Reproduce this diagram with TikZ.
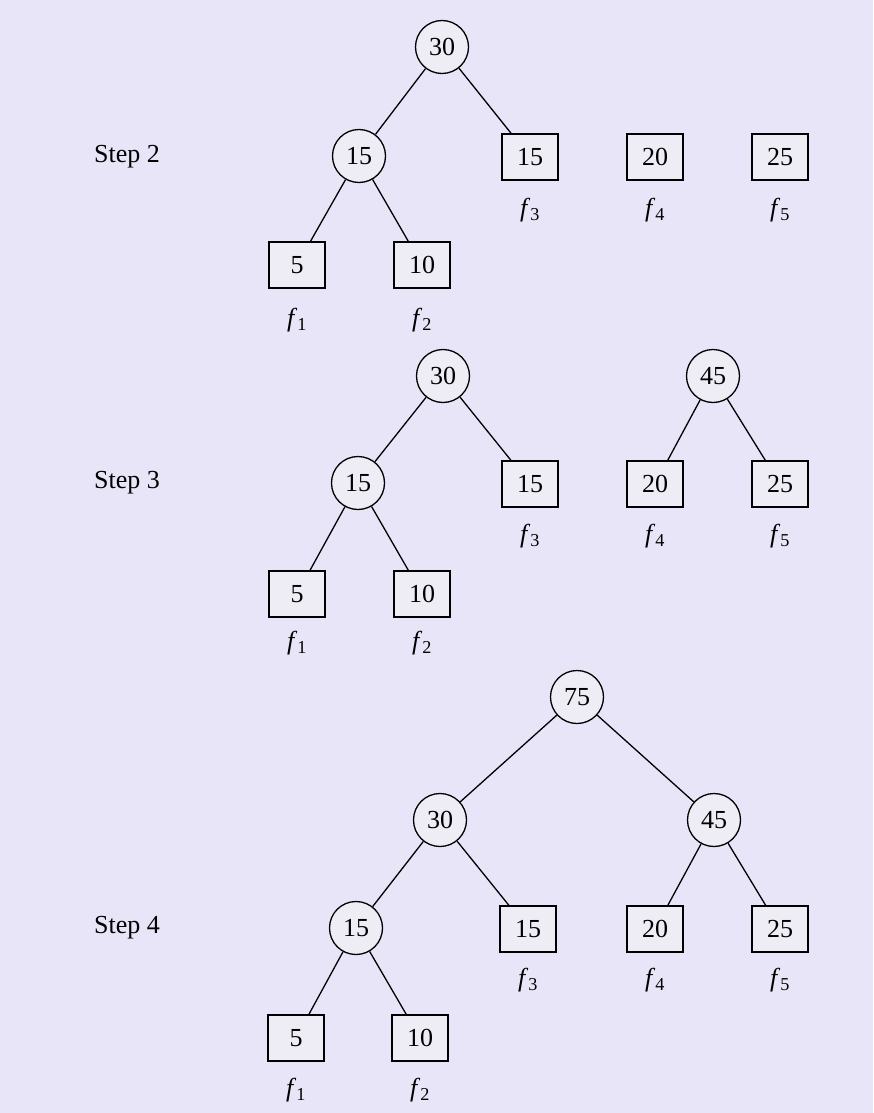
\documentclass[tikz,border=0pt]{standalone}
\usepackage{fontspec}
\setmainfont{Liberation Serif}
\usepackage{tikz}
\usepackage{xcolor}

\definecolor{paper}{RGB}{233,229,248}
\definecolor{cellfill}{RGB}{238,236,245}

\begin{document}
\begin{tikzpicture}[
            x = 1pt, y = -1pt, % pixel units, y downwards
            font = \fontsize{26}{30}\selectfont,
            line width = 1.3pt, % line style
            sum/.style = {shape=circle, draw=black, fill=cellfill, minimum size=53pt, inner sep=0pt},
            leaf/.style = {shape=rectangle, draw=black, fill=cellfill, minimum width=56pt, minimum height=46pt, inner sep=0pt},
            flab/.style = {inner sep=0pt}
        ]

\fill[paper] (0,0) rectangle (873,1113);
\useasboundingbox (0,0) rectangle (873,1113);

% Step 2
\node (stepA) at (127,157) {Step 2};
\node[sum] (A30) at (442,47) {30};
\node[sum] (A15) at (359,156) {15};
\node[leaf] (A15f) at (530,157) {15};
\node[leaf] (A20) at (655,157) {20};
\node[leaf] (A25) at (780,157) {25};
\node[leaf] (A5) at (297,265) {5};
\node[leaf] (A10) at (422,265) {10};
\node[flab] (Af1) at (297,320) {\textit{f}\textsubscript{1}};
\node[flab] (Af2) at (422,320) {\textit{f}\textsubscript{2}};
\node[flab] (Af3) at (530,210) {\textit{f}\textsubscript{3}};
\node[flab] (Af4) at (655,210) {\textit{f}\textsubscript{4}};
\node[flab] (Af5) at (780,210) {\textit{f}\textsubscript{5}};

\path (A30) edge (A15);
\path (A30) edge (A15f);
\path (A15) edge (A5);
\path (A15) edge (A10);

% Step 3
\node (stepB) at (127,483) {Step 3};
\node[sum] (B30) at (443,376) {30};
\node[sum] (B15) at (358,483) {15};
\node[leaf] (B15f) at (530,484) {15};
\node[sum] (B45) at (713,376) {45};
\node[leaf] (B20) at (655,484) {20};
\node[leaf] (B25) at (780,484) {25};
\node[leaf] (B5) at (297,594) {5};
\node[leaf] (B10) at (422,594) {10};
\node[flab] (Bf1) at (297,643) {\textit{f}\textsubscript{1}};
\node[flab] (Bf2) at (422,643) {\textit{f}\textsubscript{2}};
\node[flab] (Bf3) at (530,536) {\textit{f}\textsubscript{3}};
\node[flab] (Bf4) at (655,536) {\textit{f}\textsubscript{4}};
\node[flab] (Bf5) at (780,536) {\textit{f}\textsubscript{5}};

\path (B30) edge (B15);
\path (B30) edge (B15f);
\path (B15) edge (B5);
\path (B15) edge (B10);
\path (B45) edge (B20);
\path (B45) edge (B25);

% Step 4
\node (stepC) at (127,928) {Step 4};
\node[sum] (C75) at (577,697) {75};
\node[sum] (C30) at (440,820) {30};
\node[sum] (C45) at (714,820) {45};
\node[sum] (C15) at (356,928) {15};
\node[leaf] (C15f) at (528,929) {15};
\node[leaf] (C20) at (655,929) {20};
\node[leaf] (C25) at (780,929) {25};
\node[leaf] (C5) at (296,1038) {5};
\node[leaf] (C10) at (420,1038) {10};
\node[flab] (Cf1) at (296,1090) {\textit{f}\textsubscript{1}};
\node[flab] (Cf2) at (420,1090) {\textit{f}\textsubscript{2}};
\node[flab] (Cf3) at (528,980) {\textit{f}\textsubscript{3}};
\node[flab] (Cf4) at (655,980) {\textit{f}\textsubscript{4}};
\node[flab] (Cf5) at (780,980) {\textit{f}\textsubscript{5}};

\path (C75) edge (C30);
\path (C75) edge (C45);
\path (C30) edge (C15);
\path (C30) edge (C15f);
\path (C45) edge (C20);
\path (C45) edge (C25);
\path (C15) edge (C5);
\path (C15) edge (C10);
\end{tikzpicture}
\end{document}
